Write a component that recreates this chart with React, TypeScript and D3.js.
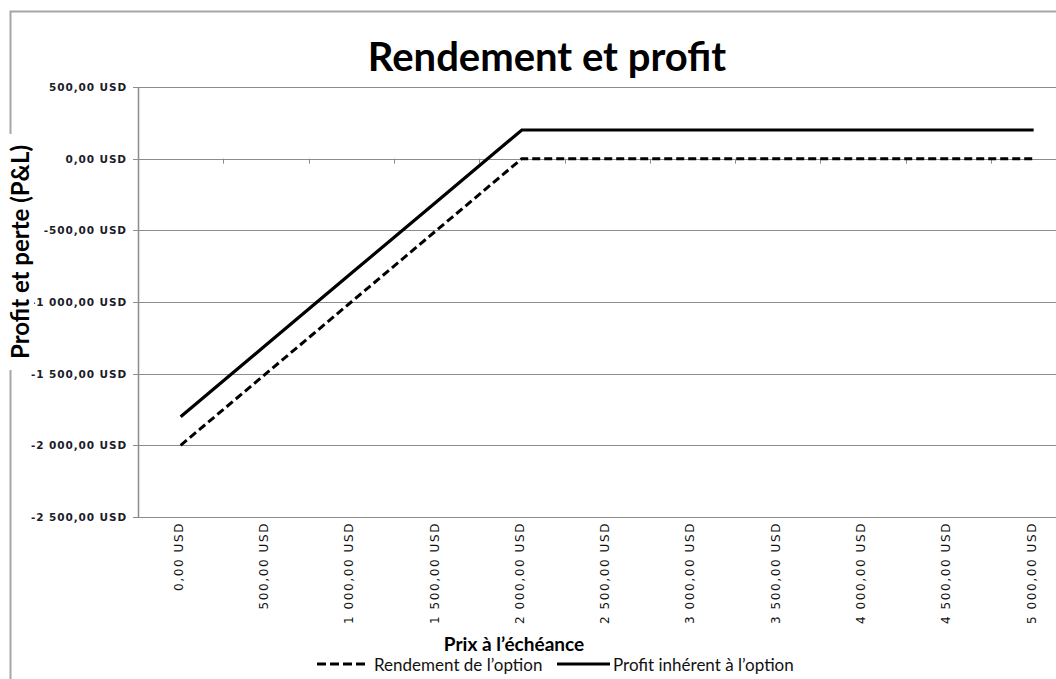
import React from 'react';
import * as d3 from 'd3';

// prix à l'échéance (catégories)
const prices = [0, 500, 1000, 1500, 2000, 2500, 3000, 3500, 4000, 4500, 5000];
// rendement de l'option
const payoff = [-2000, -1500, -1000, -500, 0, 0, 0, 0, 0, 0, 0];
// profit inhérent à l'option
const profit = [-1800, -1300, -800, -300, 200, 200, 200, 200, 200, 200, 200];
const yTicks = [500, 0, -500, -1000, -1500, -2000, -2500];

const seriesNames = ['Rendement de l’option', 'Profit inhérent à l’option'];

const W = 1056;
const H = 679;

// format "1 000,00 USD"
const fmt = (v: number) => {
  const s = d3.format(',.2f')(Math.abs(v)).replace(/,/g, ' ').replace('.', ',');
  return (v < 0 ? '-' : '') + s + ' USD';
};

export default function App() {
  const left = 138;
  const band = 85.3;
  const x = d3
    .scaleBand<number>()
    .domain(prices)
    .range([left, left + band * prices.length]);
  const y = d3.scaleLinear().domain([-2500, 500]).range([517, 87]);

  const line = d3
    .line<number>()
    .x((_, i) => x(prices[i])! + x.bandwidth() / 2)
    .y((d) => y(d));

  const grid = '#8c8c8c';
  const labelFont = 'DejaVu Sans';

  return (
    <svg
      width={W}
      height={H}
      style={{ position: 'absolute', left: 0, top: 0, background: '#fff' }}
    >
      {/* outer frame */}
      <rect x={10.5} y={11.5} width={W + 20} height={H + 20} fill="none" stroke="#a6a6a6" strokeWidth={2} />

      {/* title */}
      <text x={547} y={71} textAnchor="middle" fontFamily="Lato" fontWeight="bold" fontSize={40} fill="#000">
        Rendement et profit
      </text>

      {/* horizontal gridlines */}
      {yTicks.map((t) => (
        <line key={'g' + t} x1={left} x2={W} y1={Math.round(y(t)) + 0.5} y2={Math.round(y(t)) + 0.5} stroke={grid} strokeWidth={1} />
      ))}

      {/* y axis */}
      <line x1={left + 0.5} x2={left + 0.5} y1={y(500)} y2={y(-2500)} stroke={grid} strokeWidth={1.5} />
      {yTicks.map((t) => (
        <g key={'y' + t}>
          <line x1={left - 5} x2={left} y1={Math.round(y(t)) + 0.5} y2={Math.round(y(t)) + 0.5} stroke={grid} />
          <text
            x={127}
            y={y(t) + 4}
            textAnchor="end"
            fontFamily={labelFont}
            fontWeight="bold"
            fontSize={10.5}
            letterSpacing={0.9}
            fill="#1c1c28"
          >
            {fmt(t)}
          </text>
        </g>
      ))}

      {/* x axis at zero with tick marks */}
      {prices.map((p) => (
        <line
          key={'xt' + p}
          x1={Math.round(x(p)!) + 0.5}
          x2={Math.round(x(p)!) + 0.5}
          y1={y(0)}
          y2={y(0) + 5}
          stroke={grid}
        />
      ))}

      {/* x tick labels (rotated) */}
      {prices.map((p) => {
        const cx = x(p)! + x.bandwidth() / 2 + 2;
        return (
          <text
            key={'xl' + p}
            transform={`translate(${cx},522) rotate(-90)`}
            textAnchor="end"
            fontFamily={labelFont}
            fontSize={12}
            letterSpacing={1.6}
            fill="#111"
          >
            {fmt(p)}
          </text>
        );
      })}

      {/* series */}
      <path d={line(payoff)!} fill="none" stroke="#000" strokeWidth={3} strokeDasharray="8,4" />
      <path d={line(profit)!} fill="none" stroke="#000" strokeWidth={3.2} />

      {/* y axis title */}
      <g transform="translate(22,252) rotate(-90)">
        <rect x={-118} y={-14} width={236} height={26} fill="#fff" />
        <text x={0} y={7} textAnchor="middle" fontFamily="Lato" fontWeight="bold" fontSize={24} fill="#000">
          Profit et perte (P&amp;L)
        </text>
      </g>

      {/* x axis title */}
      <text x={514} y={651} textAnchor="middle" fontFamily="Lato" fontWeight="bold" fontSize={19} fill="#000">
        Prix à l’échéance
      </text>

      {/* legend */}
      <line x1={317} x2={369} y1={664} y2={664} stroke="#000" strokeWidth={3} strokeDasharray="9,4" />
      <text x={374} y={671} fontFamily="Lato" fontSize={17} fill="#111">
        {seriesNames[0]}
      </text>
      <line x1={557} x2={610} y1={664} y2={664} stroke="#000" strokeWidth={3} />
      <text x={613} y={671} fontFamily="Lato" fontSize={17} fill="#111">
        {seriesNames[1]}
      </text>
    </svg>
  );
}
